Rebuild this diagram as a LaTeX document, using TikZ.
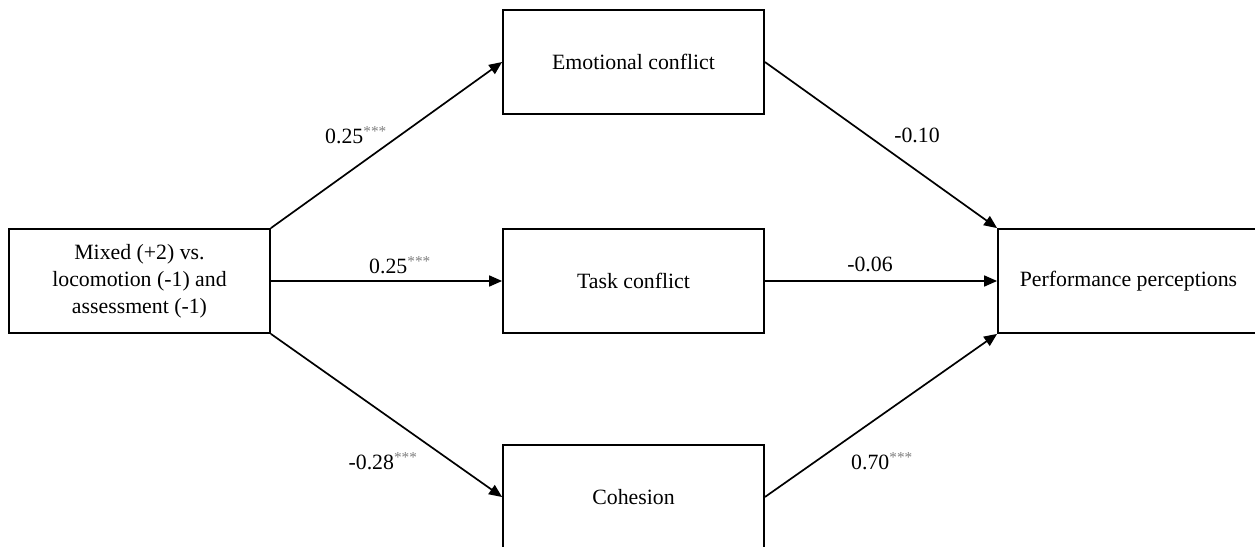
\documentclass[tikz,border=0pt]{standalone}
\usepackage{fontspec}
\setmainfont{Liberation Serif}
\usetikzlibrary{arrows.meta}
\tikzset{
  varbox/.style={draw=black, line width=1.8pt, minimum width=261pt, minimum height=104pt, inner sep=0pt, align=center, font=\fontsize{21.8}{27}\selectfont},
  pathline/.style={line width=1.7pt, -{Triangle[length=13pt,width=11pt]}},
  coef/.style={inner sep=0pt, font=\fontsize{21.8}{26}\selectfont},
}
\newcommand{\sigstars}{\textsuperscript{\color{gray}***}}
\begin{document}
\begin{tikzpicture}[x=1pt,y=-1pt]
\useasboundingbox (0,0) rectangle (1255,546);
\node[varbox] (mix) at (139.5,281) {Mixed (+2) vs.\\locomotion (-1) and\\assessment (-1)};
\node[varbox] (emo) at (633.5,62) {Emotional conflict};
\node[varbox] (task) at (633.5,281) {Task conflict};
\node[varbox] (coh) at (633.5,497) {Cohesion};
\node[varbox] (perf) at (1128.5,281) {Performance perceptions};

\draw[pathline] (mix.north east) -- (emo.west);
\draw[pathline] (mix.east) -- (task.west);
\draw[pathline] (mix.south east) -- (coh.west);
\draw[pathline] (emo.east) -- (perf.north west);
\draw[pathline] (task.east) -- (perf.west);
\draw[pathline] (coh.east) -- (perf.south west);

\node[coef] (l1) at (356,135) {0.25\sigstars};
\node[coef] (l2) at (400,265) {0.25\sigstars};
\node[coef] (l3) at (383,461) {-0.28\sigstars};
\node[coef] (l4) at (917,135) {-0.10};
\node[coef] (l5) at (870,264) {-0.06};
\node[coef] (l6) at (882,461) {0.70\sigstars};
\end{tikzpicture}
\end{document}
